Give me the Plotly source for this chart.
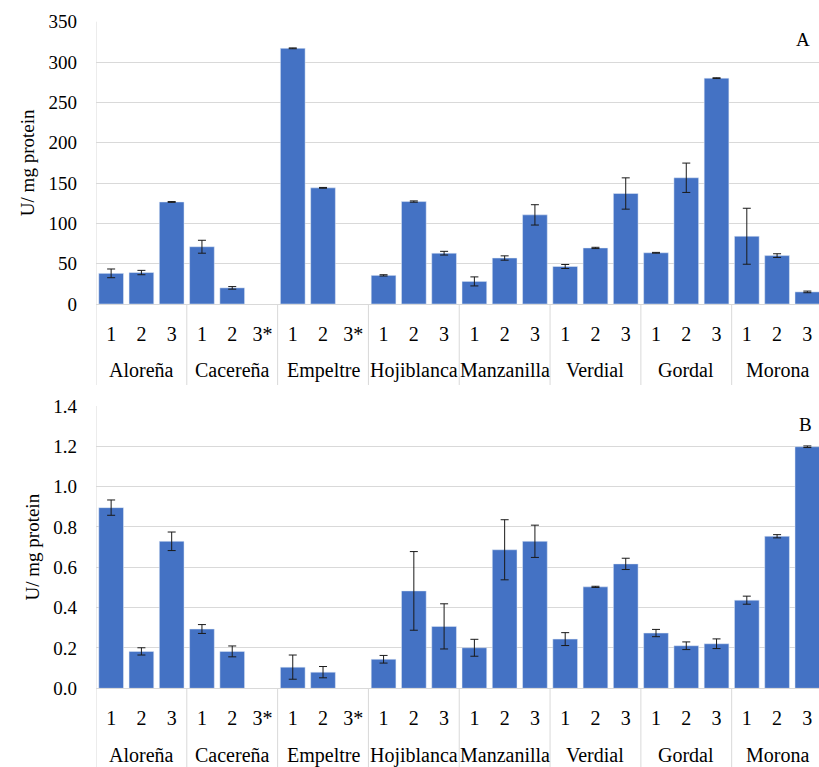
import plotly.graph_objects as go

cultivars = ["Aloreña", "Cacereña", "Empeltre", "Hojiblanca", "Manzanilla",
             "Verdial", "Gordal", "Morona"]
stage_labels = ["1", "2", "3", "1", "2", "3*", "1", "2", "3*", "1", "2", "3",
                "1", "2", "3", "1", "2", "3", "1", "2", "3", "1", "2", "3"]

# Panel A values (U/ mg protein) and standard deviations
a_values = [38, 39, 126.5, 71, 20, None, 317, 144, None, 35.5, 127, 63,
            28, 57, 110.5, 46.5, 69.5, 137, 63.5, 156.5, 280, 84, 60, 15]
a_errors = [5.4, 2.7, 0.5, 8, 1.6, None, 0.5, 0.5, None, 0.8, 0.8, 2.3,
            5.6, 2.7, 12.6, 2.5, 0.8, 19.4, 0.5, 18.2, 0.5, 34.7, 2.3, 1]

# Panel B values (U/ mg protein) and standard deviations
b_values = [0.896, 0.183, 0.729, 0.294, 0.183, None, 0.105, 0.080, None, 0.144, 0.483, 0.307,
            0.201, 0.687, 0.729, 0.244, 0.503, 0.617, 0.274, 0.211, 0.221, 0.437, 0.754, 1.198]
b_errors = [0.038, 0.018, 0.046, 0.022, 0.027, None, 0.06, 0.028, None, 0.019, 0.195, 0.112,
            0.042, 0.149, 0.08, 0.032, 0.003, 0.028, 0.018, 0.019, 0.024, 0.02, 0.008, 0.004]

W, H = 819, 767
FONT = "'Liberation Serif', 'Times New Roman', 'DejaVu Serif', serif"
BLUE = "#4472C4"
GRID = "#d9d9d9"
positions = list(range(len(stage_labels)))

def py(px):
    return 1 - px / H

fig = go.Figure()
fig.add_trace(go.Bar(x=positions, y=a_values, marker_color=BLUE, xaxis="x", yaxis="y",
                     error_y=dict(type="data", array=a_errors, visible=True,
                                  color="#1a1a1a", thickness=1, width=4),
                     showlegend=False))
fig.add_trace(go.Bar(x=positions, y=b_values, marker_color=BLUE, xaxis="x2", yaxis="y2",
                     error_y=dict(type="data", array=b_errors, visible=True,
                                  color="#1a1a1a", thickness=1, width=4),
                     showlegend=False))

xdom = [96 / W, 1.0]
xrange = [-0.5, -0.5 + (W - 96) / 30.27]
common_x = dict(domain=xdom, range=xrange, tickmode="array", tickvals=positions,
                ticktext=stage_labels, showgrid=False, zeroline=False,
                showline=True, linecolor=GRID, linewidth=1, automargin=False,
                ticks="", ticklabelstandoff=12,
                tickfont=dict(family=FONT, size=20, color="#000"))

common_y = dict(showgrid=True, gridcolor=GRID, gridwidth=1, zeroline=False,
                showline=False, ticks="", ticklabelstandoff=18, automargin=False,
                tickfont=dict(family=FONT, size=19, color="#000"),
                title=dict(text="U/ mg protein", standoff=8,
                           font=dict(family=FONT, size=19, color="#000")))

fig.update_layout(
    width=W, height=H,
    margin=dict(l=0, r=0, t=0, b=0),
    paper_bgcolor="white", plot_bgcolor="white",
    bargap=0.184,
    font=dict(family=FONT, size=19, color="#000"),
    xaxis=dict(anchor="y", **common_x),
    xaxis2=dict(anchor="y2", **common_x),
    yaxis=dict(domain=[py(304), py(21.7)], range=[0, 350], dtick=50, **common_y),
    yaxis2=dict(domain=[py(688.3), py(406)], range=[0, 1.4], dtick=0.2,
                tickformat=".1f", **common_y),
)

shapes = []
annotations = []
# panel A: axis bottom 304 px, labels to 385; panel B: axis 688 px, labels to bottom
for xr, top_px, axis_px, bot_px, grp_px in [("x", 21.7, 304, 385, 370),
                                            ("x2", 406, 688.3, 767, 755)]:
    # left vertical axis line through labels
    shapes.append(dict(type="line", xref=xr, yref="paper", x0=-0.5, x1=-0.5,
                       y0=py(bot_px), y1=py(top_px), line=dict(color=GRID, width=1)))
    for g in range(1, len(cultivars)):
        xv = g * 3 - 0.5
        shapes.append(dict(type="line", xref=xr, yref="paper", x0=xv, x1=xv,
                           y0=py(bot_px), y1=py(axis_px), line=dict(color=GRID, width=1)))
    for g, name in enumerate(cultivars):
        annotations.append(dict(text=name, xref=xr, yref="paper", x=g * 3 + 1, y=py(grp_px),
                                showarrow=False, xanchor="center", yanchor="middle",
                                font=dict(family=FONT, size=20, color="#000")))

annotations.append(dict(text="A", xref="paper", yref="paper", x=803 / W, y=py(40),
                        xanchor="center", yanchor="middle",
                        showarrow=False, font=dict(family=FONT, size=19, color="#000")))
annotations.append(dict(text="B", xref="paper", yref="paper", x=805 / W, y=py(425),
                        xanchor="center", yanchor="middle",
                        showarrow=False, font=dict(family=FONT, size=19, color="#000")))

fig.update_layout(shapes=shapes, annotations=annotations)
fig.write_html("out.html", config={"displayModeBar": False},
               post_script="document.body.style.margin='0';document.body.style.overflow='hidden';")
